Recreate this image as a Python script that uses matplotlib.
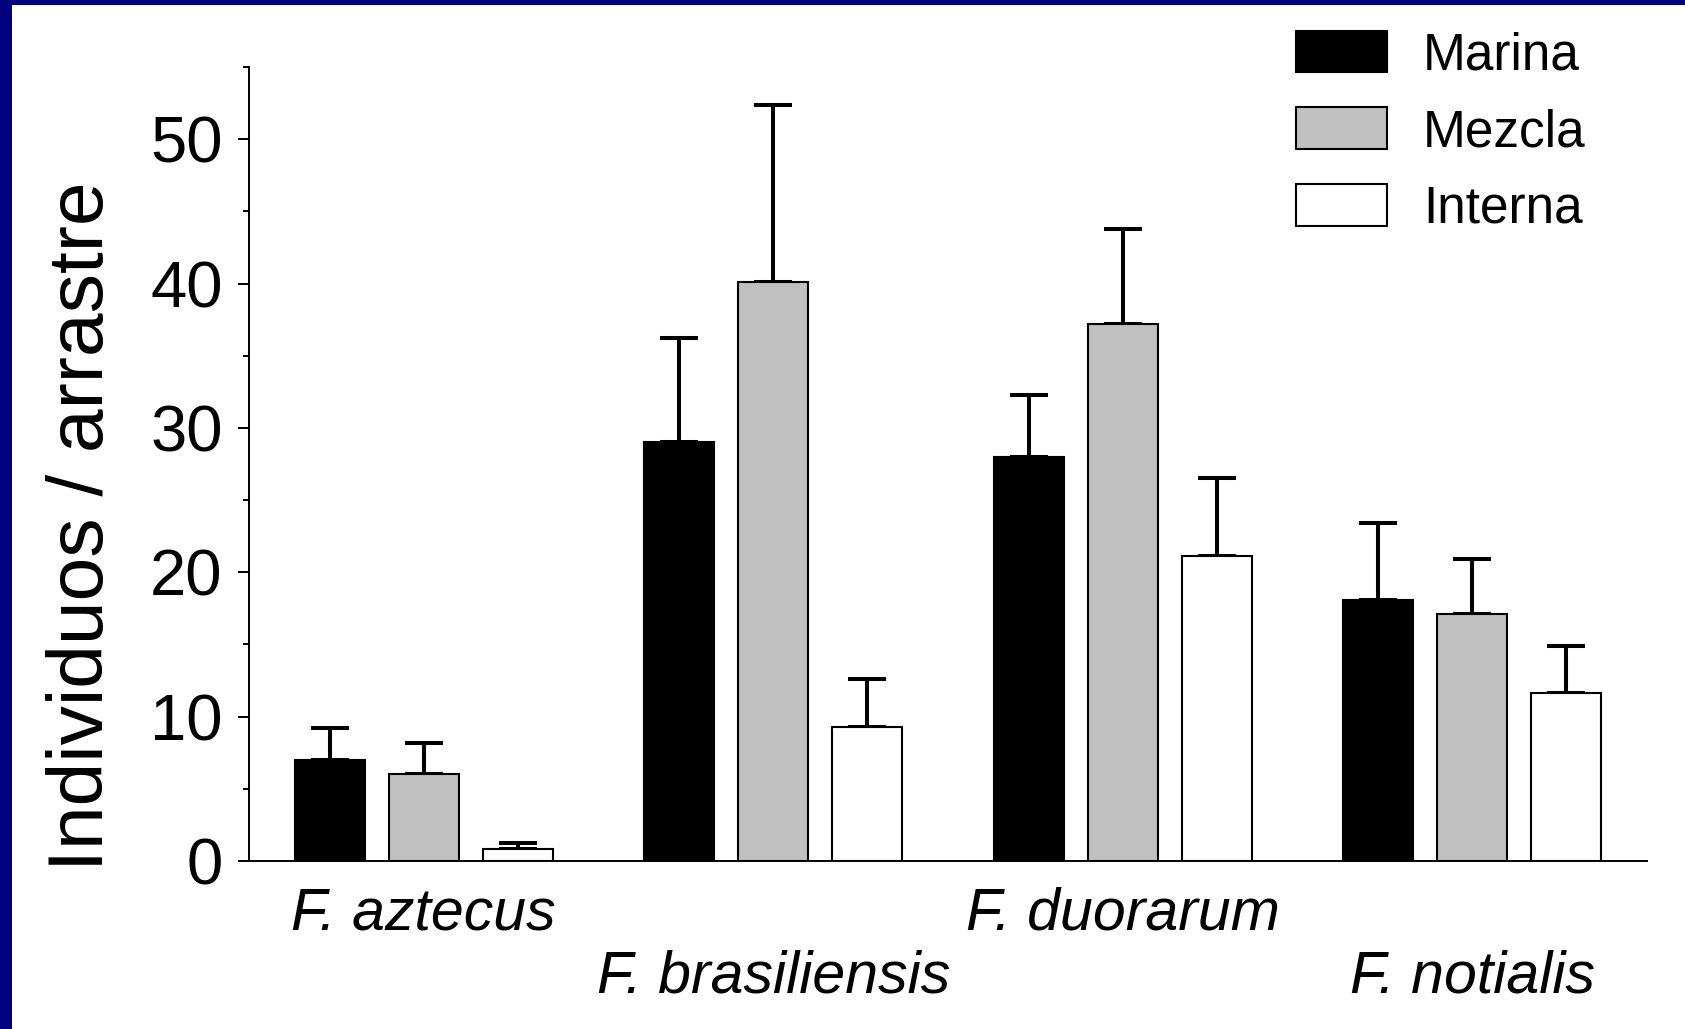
import numpy as np
import matplotlib
matplotlib.use("Agg")
from matplotlib import pyplot as plt
from matplotlib.patches import Rectangle

plt.rcParams['font.family'] = ['Liberation Sans', 'DejaVu Sans']

# Especies y series
species = ['F. aztecus', 'F. brasiliensis', 'F. duorarum', 'F. notialis']
series = ['Marina', 'Mezcla', 'Interna']
marina = [7.0, 29.0, 28.0, 18.1]
marina_err = [2.2, 7.2, 4.3, 5.3]
mezcla = [6.0, 40.1, 37.2, 17.1]
mezcla_err = [2.2, 12.3, 6.6, 3.8]
interna = [0.85, 9.3, 21.1, 11.65]
interna_err = [0.4, 3.3, 5.4, 3.25]

colors = ['black', '#c0c0c0', 'white']

fig = plt.figure(figsize=[16.85, 10.29], dpi=100)
ax = fig.add_axes([249 / 1685, 1 - 861 / 1029, (1647 - 249) / 1685, (861 - 67) / 1029])

x = np.arange(len(species))
width = 0.2
step = 0.269
values = [marina, mezcla, interna]
errors = [marina_err, mezcla_err, interna_err]
for i in range(3):
    pos = x + (i - 1) * step
    ax.bar(pos, values[i], width, color=colors[i], edgecolor='black', linewidth=1.5,
           label=series[i], zorder=2)
    ax.errorbar(pos, values[i], yerr=[np.zeros(len(species)), errors[i]], fmt='none',
                ecolor='black', elinewidth=2.9, capsize=14, capthick=2.9, zorder=1)

ax.set_xlim(-0.5, 3.5)
ax.set_ylim(0, 55)
ax.set_yticks([0, 10, 20, 30, 40, 50])
ax.set_yticks(np.arange(5, 56, 10), minor=True)
ax.tick_params(axis='y', which='major', length=8, width=1.4, labelsize=47, pad=11)
ax.tick_params(axis='y', which='minor', length=4.3, width=1.4)
ax.spines['top'].set_visible(False)
ax.spines['right'].set_visible(False)
ax.spines['left'].set_linewidth(1.4)
ax.spines['bottom'].set_linewidth(1.4)

ax.set_xticks(x)
ax.set_xticklabels(species, fontsize=42.5, style='italic')
ax.tick_params(axis='x', length=0)
for i, tick in enumerate(ax.xaxis.get_major_ticks()):
    tick.set_pad(18.5 if i % 2 == 0 else 64)

ax.set_ylabel('Individuos / arrastre', fontsize=56.5, va='center')
ax.yaxis.set_label_coords(-0.119, 0.422)

ax.legend(loc='upper left', bbox_to_anchor=(1296 / 1685, 1 - 30.5 / 1029),
          bbox_transform=fig.transFigure, frameon=False, fontsize=37,
          handlelength=1.77, handleheight=0.875, labelspacing=0.53,
          handletextpad=0.7, borderpad=0, borderaxespad=0)

# marco azul (arriba e izquierda)
fig.patches.append(Rectangle((0, 0), 12 / 1685, 1, transform=fig.transFigure,
                             facecolor='#000080', edgecolor='none'))
fig.patches.append(Rectangle((0, 1 - 5 / 1029), 1, 5 / 1029, transform=fig.transFigure,
                             facecolor='#000080', edgecolor='none'))

plt.savefig('out.png', dpi=100)
